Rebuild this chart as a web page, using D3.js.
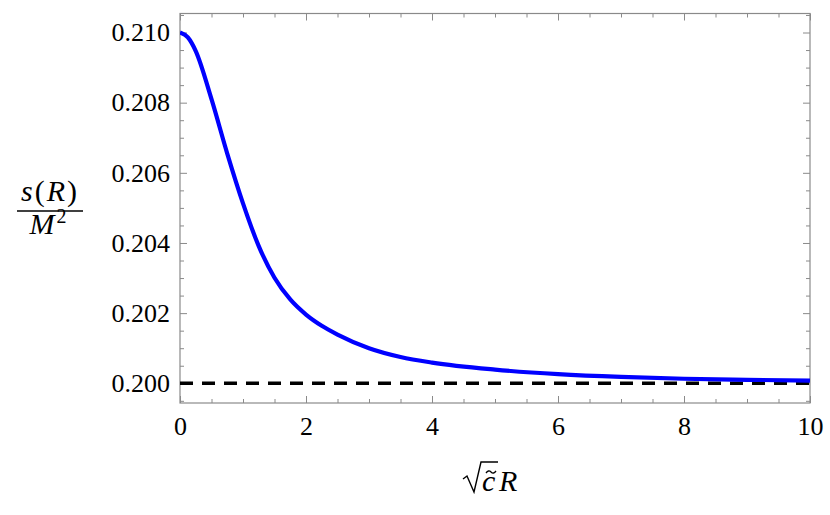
<!DOCTYPE html>
<html>
<head>
<meta charset="utf-8">
<script src="https://cdn.jsdelivr.net/npm/d3@7"></script>
<style>
  body { margin: 0; background: #fff; }
</style>
</head>
<body>
<script>
// curve values
var xVals = [0, 0.125, 0.25, 0.5, 0.75, 1, 1.25, 1.5, 1.75, 2, 2.25, 2.5, 3, 3.5, 4, 5, 6, 7, 8, 9, 10];
var sVals = [0.21000, 0.20986, 0.20947, 0.20810, 0.20655, 0.20513, 0.20391, 0.20301, 0.20239,
             0.20196, 0.20164, 0.20139, 0.20100, 0.20075, 0.20059, 0.20039, 0.20026, 0.20018,
             0.20013, 0.20010, 0.200075];
var asymptote = 0.200;
var xTicks = [0, 2, 4, 6, 8, 10];
var yTicks = [0.200, 0.202, 0.204, 0.206, 0.208, 0.210];
var yTickLabels = ["0.200", "0.202", "0.204", "0.206", "0.208", "0.210"];

var serif = "Liberation Serif";

var margin = {top: 13.5, right: 20, bottom: 112, left: 180},
    width = 830 - margin.left - margin.right,
    height = 515 - margin.top - margin.bottom;

var x = d3.scaleLinear().domain([0, 10]).range([0, width]);
var y = d3.scaleLinear().domain([0.199438, 0.210542]).range([height, 0]);

var svg = d3.select("body").append("svg")
    .attr("width", 830)
    .attr("height", 515);

var g = svg.append("g")
    .attr("transform", "translate(" + margin.left + "," + margin.top + ")");

var data = xVals.map(function(d, i) { return {x: d, s: sVals[i]}; });

g.append("clipPath").attr("id", "clip")
  .append("rect").attr("width", width).attr("height", height);

var frameColor = "#8a8a8a";

// minor ticks (all four sides, pointing inward)
var xMinor = x.ticks(20).filter(function(d) { return xTicks.indexOf(d) < 0; });
var yMinor = y.ticks(22).filter(function(d) {
  return yTicks.every(function(t) { return Math.abs(t - d) > 1e-9; });
});

function styleAxis(sel) {
  sel.select(".domain").remove();
  sel.selectAll(".tick line").attr("stroke", frameColor).attr("stroke-width", 1);
  sel.selectAll("text").attr("fill", "#000").attr("font-size", 26);
}

g.append("g").attr("transform", "translate(0," + height + ")")
  .call(d3.axisBottom(x).tickValues(xMinor).tickSize(-4).tickFormat(""))
  .call(styleAxis);
g.append("g")
  .call(d3.axisTop(x).tickValues(xMinor).tickSize(-4).tickFormat(""))
  .call(styleAxis);
g.append("g")
  .call(d3.axisLeft(y).tickValues(yMinor).tickSize(-4).tickFormat(""))
  .call(styleAxis);
g.append("g").attr("transform", "translate(" + width + ",0)")
  .call(d3.axisRight(y).tickValues(yMinor).tickSize(-4).tickFormat(""))
  .call(styleAxis);

// major ticks
g.append("g").attr("transform", "translate(0," + height + ")")
  .call(d3.axisBottom(x).tickValues(xTicks).tickSize(-7).tickPadding(14).tickFormat(d3.format("d")))
  .call(styleAxis);
g.append("g")
  .call(d3.axisTop(x).tickValues(xTicks).tickSize(-7).tickFormat(""))
  .call(styleAxis);
g.append("g")
  .call(d3.axisLeft(y).tickValues(yTicks).tickSize(-7).tickPadding(10)
    .tickFormat(function(d, i) { return yTickLabels[i]; }))
  .call(styleAxis);
g.append("g").attr("transform", "translate(" + width + ",0)")
  .call(d3.axisRight(y).tickValues(yTicks).tickSize(-7).tickFormat(""))
  .call(styleAxis);

// frame
g.append("rect")
  .attr("x", 0).attr("y", 0)
  .attr("width", width).attr("height", height)
  .attr("fill", "none")
  .attr("stroke", frameColor)
  .attr("stroke-width", 1.2);

var plot = g.append("g").attr("clip-path", "url(#clip)");

// dashed asymptote
plot.append("line")
  .attr("x1", x(0)).attr("x2", x(10))
  .attr("y1", y(asymptote)).attr("y2", y(asymptote))
  .attr("stroke", "#000")
  .attr("stroke-width", 3.5)
  .attr("stroke-dasharray", "13,9");

// blue curve
var line = d3.line()
  .x(function(d) { return x(d.x); })
  .y(function(d) { return y(d.s); })
  .curve(d3.curveMonotoneX);

plot.append("path")
  .datum(data)
  .attr("fill", "none")
  .attr("stroke", "#0000ff")
  .attr("stroke-width", 4.2)
  .attr("stroke-linejoin", "round")
  .attr("d", line);

// y label: s(R) / M^2
var yl = svg.append("g").attr("transform", "translate(50,0)");
var num = yl.append("text")
  .attr("x", 0).attr("y", 201)
  .attr("text-anchor", "middle")
  .attr("font-size", 30)
  .attr("letter-spacing", 2);
num.append("tspan").attr("font-style", "italic").text("s");
num.append("tspan").text("(");
num.append("tspan").attr("font-style", "italic").text("R");
num.append("tspan").text(")");
yl.append("line")
  .attr("x1", -33).attr("x2", 33)
  .attr("y1", 211).attr("y2", 211)
  .attr("stroke", "#000").attr("stroke-width", 1.3);
var den = yl.append("text")
  .attr("x", -2).attr("y", 234)
  .attr("text-anchor", "middle")
  .attr("font-size", 30);
den.append("tspan").attr("font-style", "italic").text("M");
den.append("tspan").attr("dx", 2).attr("dy", -11).attr("font-size", 20).text("2");

// x label: sqrt(c~) R
var xl = svg.append("g");
xl.append("path")
  .attr("d", "M463,479 L467,476 L474,492 L481,462 L498,462")
  .attr("fill", "none")
  .attr("stroke", "#000")
  .attr("stroke-width", 1.4)
  .attr("stroke-linejoin", "miter");
xl.append("text")
  .attr("x", 482).attr("y", 491)
  .attr("font-size", 30)
  .attr("font-style", "italic")
  .text("c");
// tilde accent over c
xl.append("path")
  .attr("d", "M486,473 q2.5,-3.5 5,-1 t5,-1")
  .attr("fill", "none")
  .attr("stroke", "#000")
  .attr("stroke-width", 1.3);
xl.append("text")
  .attr("x", 499).attr("y", 491)
  .attr("font-size", 30)
  .attr("font-style", "italic")
  .attr("letter-spacing", 1)
  .text("R");

// serif font on every text, set directly on the element
svg.selectAll("text").attr("font-family", serif).style("font-family", serif);
</script>
</body>
</html>
